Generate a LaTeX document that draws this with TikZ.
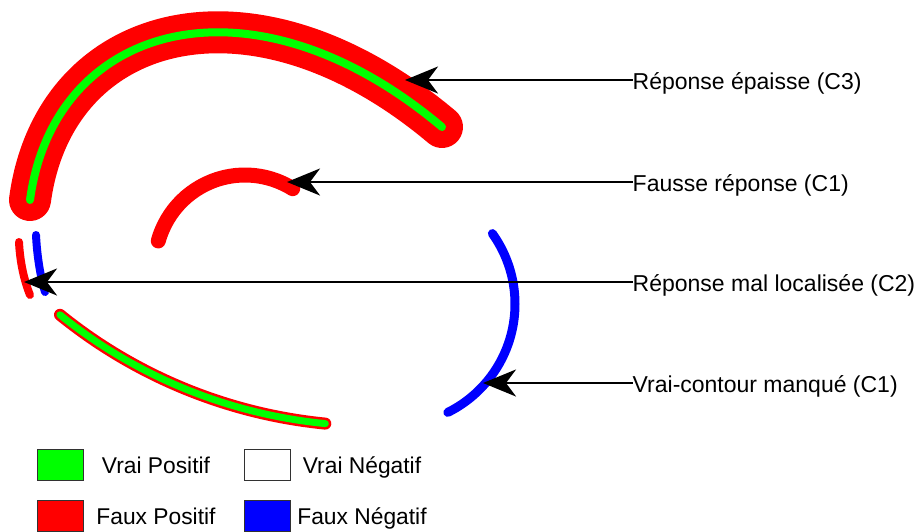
\documentclass[tikz,border=0pt]{standalone}
\usepackage{fontspec}
\setmainfont{Liberation Sans}
\usetikzlibrary{arrows.meta,calc}
\definecolor{vpos}{RGB}{0,255,0}
\definecolor{fpos}{RGB}{255,0,0}
\definecolor{fneg}{RGB}{0,0,255}
\definecolor{boxedge}{RGB}{50,50,50}
\tikzset{
  lbl/.style={anchor=base west, inner sep=0pt, font=\fontsize{23}{27}\selectfont},
  legtxt/.style={anchor=base, inner sep=0pt, font=\fontsize{22.8}{27}\selectfont},
  legbox/.style={draw=boxedge, line width=1pt, minimum width=46pt, minimum height=31pt, inner sep=0pt},
  arr/.style={line width=2.5pt, -{Stealth[length=33pt, width=27pt, inset=10pt]}},
  contour/.style={line cap=round},
}
\begin{document}
\begin{tikzpicture}[x=1pt,y=-1pt]
\useasboundingbox (0,0) rectangle (920,531);

% Thick response (C3)
\draw[contour, fpos, line width=42pt] (30,200) .. controls (54,22) and (252,-33) .. (442,127);
\draw[contour, vpos, line width=8pt] (30,200) .. controls (54,22) and (252,-33) .. (442,127);

% False response (C1)
\coordinate (cF) at (245,265);
\draw[contour, fpos, line width=15pt] ($(cF)+(-164.5:90)$) arc[start angle=-164.5, end angle=-58, radius=90];

% Mislocalised response (C2)
\draw[contour, fpos, line width=8pt] (19,242) .. controls (20,262) and (24,280) .. (30,295);
\draw[contour, fneg, line width=8pt] (36,235) .. controls (37,255) and (40,275) .. (45,292);

% Bottom true positive arc
\coordinate (cG) at (374,-73);
\draw[contour, fpos, line width=12pt] ($(cG)+(129:499)$) arc[start angle=129, end angle=95.6, radius=499];
\draw[contour, vpos, line width=7pt] ($(cG)+(129:499)$) arc[start angle=129, end angle=95.6, radius=499];

% Missed true contour (C1)
\coordinate (cB) at (394,304);
\draw[contour, fneg, line width=9pt] ($(cB)+(-35.6:121)$) arc[start angle=-35.6, end angle=63.6, radius=121];

% Labels
\node[lbl] (t1) at (632.5,89.5) {Réponse épaisse (C3)};
\node[lbl] (t2) at (632.5,191) {Fausse réponse (C1)};
\node[lbl] (t3) at (632.5,291.5) {Réponse mal localisée (C2)};
\node[lbl] (t4) at (632.5,392) {Vrai-contour manqué (C1)};

\coordinate (p1) at (405,80);
\coordinate (p2) at (287,182);
\coordinate (p3) at (24,282);
\coordinate (p4) at (483,383);

\draw[arr] (t1.west |- p1) -- (p1);
\draw[arr] (t2.west |- p2) -- (p2);
\draw[arr] (t3.west |- p3) -- (p3);
\draw[arr] (t4.west |- p4) -- (p4);

% Legend
\node[legbox, fill=vpos] (b1) at (60,464.5) {};
\node[legbox, fill=white] (b2) at (267,464.5) {};
\node[legbox, fill=fpos] (b3) at (60,515.5) {};
\node[legbox, fill=fneg] (b4) at (267,515.5) {};
\node[legtxt] (l1) at (156,473) {Vrai Positif};
\node[legtxt] (l2) at (362,473) {Vrai Négatif};
\node[legtxt] (l3) at (156,524) {Faux Positif};
\node[legtxt] (l4) at (362,524) {Faux Négatif};
\end{tikzpicture}
\end{document}
